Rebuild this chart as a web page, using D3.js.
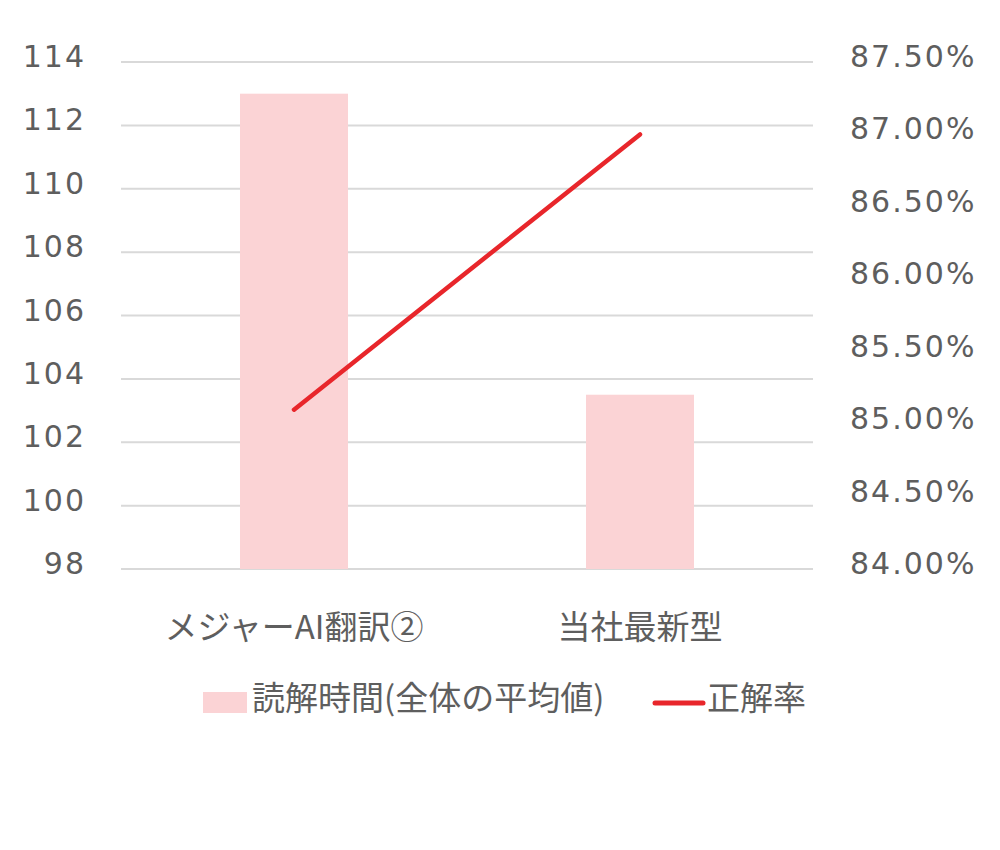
<!DOCTYPE html>
<html>
<head>
<meta charset="utf-8">
<script src="https://cdn.jsdelivr.net/npm/d3@7"></script>
<style>
  body { margin: 0; background: #fff; }
  .num { font-family: "DejaVu Sans", Verdana, sans-serif; font-size: 30px; fill: #5e5e5e; letter-spacing: 2px; }
  .jp { font-family: "Noto Sans CJK JP", sans-serif; font-size: 33px; fill: #5e5e5e; }
</style>
</head>
<body>
<div id="chart"></div>
<script>
var categories = ["メジャーAI翻訳②", "当社最新型"];
var readTime = [113.0, 103.5];          // 読解時間(全体の平均値)
var accuracy = [85.10, 87.00];          // 正解率 (%)
var leftTicks = [98, 100, 102, 104, 106, 108, 110, 112, 114];
var rightTicks = [84.0, 84.5, 85.0, 85.5, 86.0, 86.5, 87.0, 87.5];
var seriesNames = ["読解時間(全体の平均値)", "正解率"];

var width = 1000, height = 850;
var plot = {left: 121, right: 813, top: 62, bottom: 569};

var svg = d3.select("#chart").append("svg")
    .attr("width", width)
    .attr("height", height);

var x = d3.scaleBand()
    .domain(categories)
    .range([plot.left, plot.right])
    .padding(0);

var yLeft = d3.scaleLinear()
    .domain([98, 114])
    .range([plot.bottom, plot.top]);

var yRight = d3.scaleLinear()
    .domain([84, 87.5])
    .range([plot.bottom, plot.top]);

// gridlines
svg.append("g")
    .selectAll("line")
    .data(leftTicks)
    .enter()
    .append("line")
    .attr("x1", plot.left)
    .attr("x2", plot.right)
    .attr("y1", function(d) { return yLeft(d); })
    .attr("y2", function(d) { return yLeft(d); })
    .attr("stroke", "#d9d9d9")
    .attr("stroke-width", 2);

// left axis
var leftAxis = svg.append("g")
    .attr("transform", "translate(86,0)")
    .call(d3.axisLeft(yLeft).tickValues(leftTicks).tickSize(0).tickPadding(0));
leftAxis.select(".domain").remove();
leftAxis.selectAll("text")
    .attr("class", "num")
    .attr("font-family", null).attr("font-size", null).attr("fill", null)
    .attr("dy", null)
    .attr("dominant-baseline", "central")
    .attr("y", -6);

// right axis
var rightAxis = svg.append("g")
    .attr("transform", "translate(850,0)")
    .call(d3.axisRight(yRight).tickValues(rightTicks).tickSize(0).tickPadding(0)
        .tickFormat(function(d) { return d.toFixed(2) + "%"; }));
rightAxis.select(".domain").remove();
rightAxis.selectAll("text")
    .attr("class", "num")
    .attr("font-family", null).attr("font-size", null).attr("fill", null)
    .attr("dy", null)
    .attr("dominant-baseline", "central")
    .attr("y", -6);

// bars
var barW = x.bandwidth() * 0.312;
svg.append("g")
    .selectAll("rect")
    .data(readTime)
    .enter()
    .append("rect")
    .attr("x", function(d, i) { return x(categories[i]) + x.bandwidth() / 2 - barW / 2; })
    .attr("y", function(d) { return yLeft(d); })
    .attr("width", barW)
    .attr("height", function(d) { return plot.bottom - yLeft(d); })
    .attr("fill", "#fbd3d5");

// accuracy line
var line = d3.line()
    .x(function(d, i) { return x(categories[i]) + x.bandwidth() / 2; })
    .y(function(d) { return yRight(d); });

svg.append("path")
    .datum(accuracy)
    .attr("d", line)
    .attr("fill", "none")
    .attr("stroke", "#e8262b")
    .attr("stroke-width", 4.5)
    .attr("stroke-linecap", "round");

// category labels
svg.append("g")
    .selectAll("text")
    .data(categories)
    .enter()
    .append("text")
    .attr("class", "jp")
    .attr("x", function(d) { return x(d) + x.bandwidth() / 2; })
    .attr("y", 625)
    .attr("text-anchor", "middle")
    .attr("dominant-baseline", "central")
    .text(function(d) { return d; });

// legend
var legend = svg.append("g");
legend.append("rect")
    .attr("x", 203).attr("y", 692)
    .attr("width", 44).attr("height", 21)
    .attr("fill", "#fbd3d5");
legend.append("text")
    .attr("class", "jp")
    .attr("x", 252).attr("y", 696)
    .attr("dominant-baseline", "central")
    .text(seriesNames[0]);
legend.append("line")
    .attr("x1", 655).attr("x2", 703)
    .attr("y1", 703).attr("y2", 703)
    .attr("stroke", "#e8262b")
    .attr("stroke-width", 5)
    .attr("stroke-linecap", "round");
legend.append("text")
    .attr("class", "jp")
    .attr("x", 707).attr("y", 696)
    .attr("dominant-baseline", "central")
    .text(seriesNames[1]);
</script>
</body>
</html>
